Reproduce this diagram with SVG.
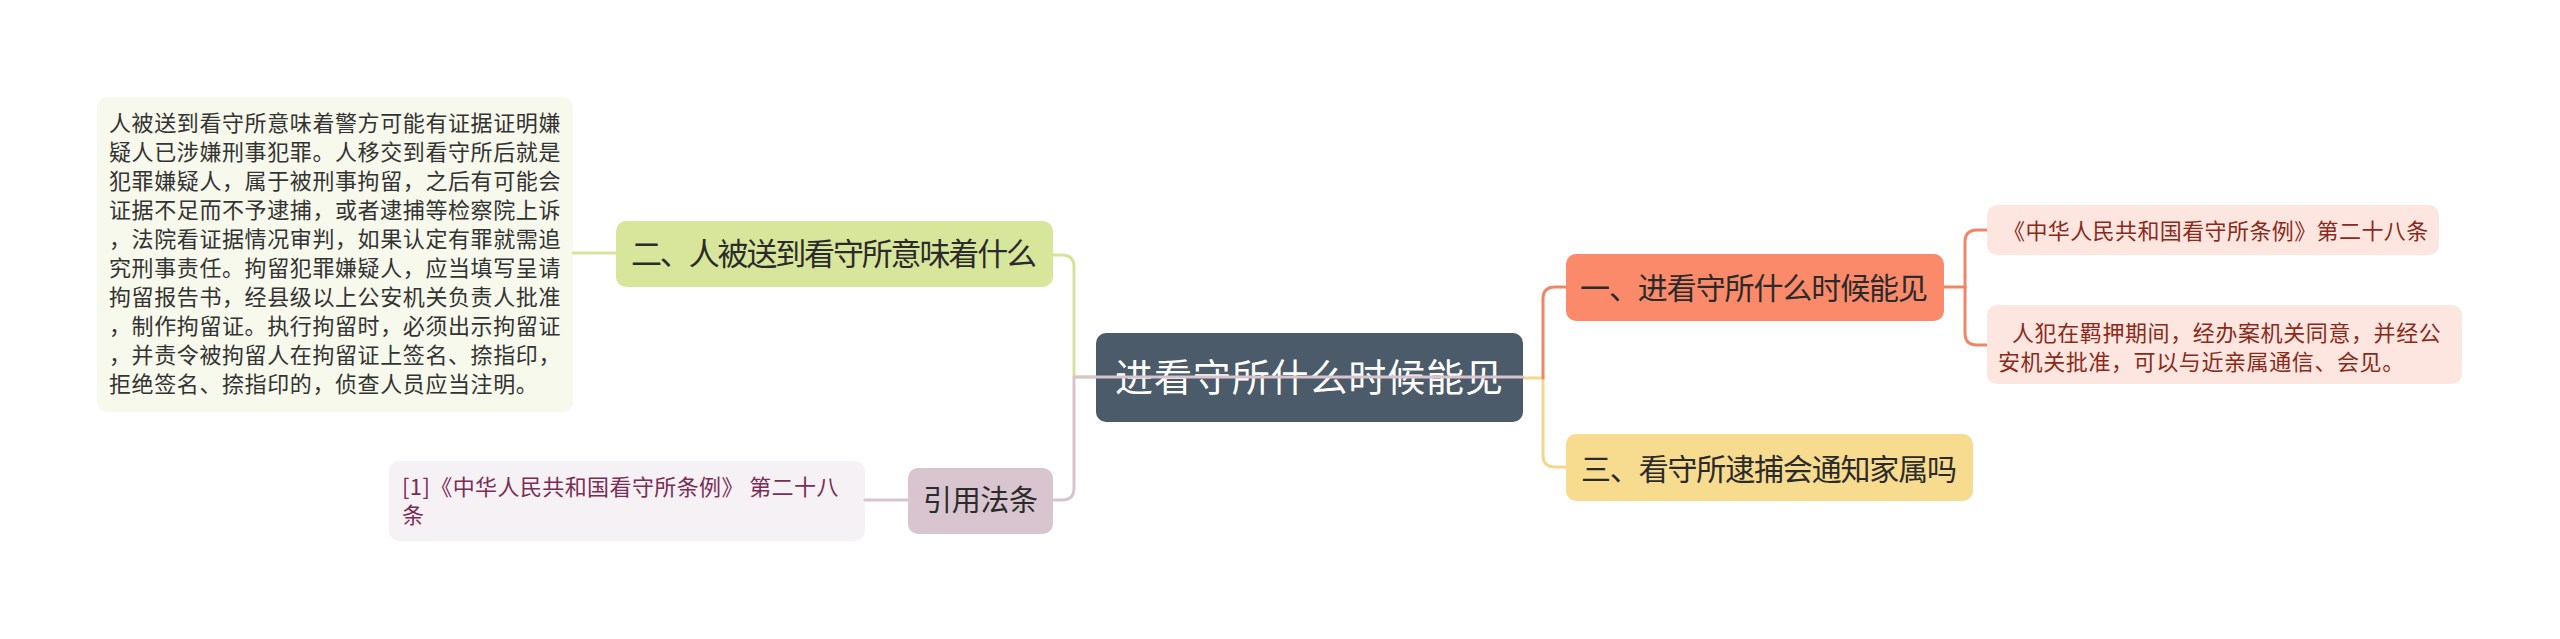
<svg xmlns="http://www.w3.org/2000/svg" width="2560" height="639" viewBox="0 0 2560 639">
<style>
text{font-family:"Noto Sans CJK SC","Noto Sans CJK JP",sans-serif;}
.c{fill:none;stroke-width:3;stroke-linecap:round;stroke-linejoin:round}
.g{stroke:#d6e39a}
.p{stroke:#d7c4cd}
.o{stroke:#f08567}
.y{stroke:#f3d88c}
.body{font-size:22px;fill:#333333;letter-spacing:0.6px}
.lbl{fill:#2b2b2b}
</style>
<rect width="2560" height="639" fill="#ffffff"/>

<g id="n-left-detail">
<rect x="97" y="97" width="476" height="315" rx="10" fill="#f7f9ec"/>
<text class="body" x="109" y="131">人被送到看守所意味着警方可能有证据证明嫌</text>
<text class="body" x="109" y="160">疑人已涉嫌刑事犯罪。人移交到看守所后就是</text>
<text class="body" x="109" y="189">犯罪嫌疑人，属于被刑事拘留，之后有可能会</text>
<text class="body" x="109" y="218">证据不足而不予逮捕，或者逮捕等检察院上诉</text>
<text class="body" x="109" y="247">，法院看证据情况审判，如果认定有罪就需追</text>
<text class="body" x="109" y="276">究刑事责任。拘留犯罪嫌疑人，应当填写呈请</text>
<text class="body" x="109" y="305">拘留报告书，经县级以上公安机关负责人批准</text>
<text class="body" x="109" y="334">，制作拘留证。执行拘留时，必须出示拘留证</text>
<text class="body" x="109" y="363">，并责令被拘留人在拘留证上签名、捺指印，</text>
<text class="body" x="109" y="392">拒绝签名、捺指印的，侦查人员应当注明。</text>
</g>

<g id="n-citation">
<rect x="389" y="461" width="476" height="80" rx="10" fill="#f6f1f4"/>
<text x="402" y="495" font-size="22" fill="#7a2d55" letter-spacing="0.4">[1]《中华人民共和国看守所条例》 第二十八</text>
<text x="402" y="523" font-size="22" fill="#7a2d55">条</text>
</g>

<g id="connectors">
<path class="c g" d="M573 253 L616 253"/>
<path class="c g" d="M1053 255 L1062 255 Q1074 255 1074 267 L1074 377 L1096 377"/>
<path class="c p" d="M865 500 L908 500"/>
<path class="c p" d="M1053 500 L1062 500 Q1074 500 1074 488 L1074 377 L1096 377"/>
<path class="c y" d="M1523 378 L1543 378 L1543 455 Q1543 467 1555 467 L1566 467"/>
<path class="c o" d="M1543 378 L1543 299 Q1543 287 1555 287 L1566 287"/>
<path class="c o" d="M1944 287 L1965 287"/>
<path class="c o" d="M1987 230 L1977 230 Q1965 230 1965 242 L1965 333 Q1965 345 1977 345 L1987 345"/>
</g>

<g id="n-two">
<rect x="616" y="221" width="437" height="66" rx="10" fill="#d8e69b"/>
<text class="lbl" x="631" y="265" font-size="31" textLength="406" lengthAdjust="spacing">二、人被送到看守所意味着什么</text>
</g>

<g id="n-cite-label">
<rect x="908" y="468" width="145" height="66" rx="10" fill="#d8c5cf"/>
<text class="lbl" x="923" y="511" font-size="29" textLength="115" lengthAdjust="spacing">引用法条</text>
</g>

<g id="n-main">
<rect x="1096" y="333" width="427" height="89" rx="10" fill="#4b5b6a"/>
<text x="1115" y="391" font-size="38" fill="#ffffff" textLength="388" lengthAdjust="spacing">进看守所什么时候能见</text>
</g>
<path class="c p" d="M1096 377 L1523 377"/>

<g id="n-one">
<rect x="1566" y="254" width="378" height="67" rx="10" fill="#fb8a6a"/>
<text class="lbl" x="1580" y="299" font-size="30" textLength="348" lengthAdjust="spacing">一、进看守所什么时候能见</text>
</g>

<g id="n-three">
<rect x="1566" y="434" width="407" height="67" rx="10" fill="#f7dc8f"/>
<text class="lbl" x="1581" y="480" font-size="30" textLength="376" lengthAdjust="spacing">三、看守所逮捕会通知家属吗</text>
</g>

<g id="n-law">
<rect x="1987" y="205" width="452" height="50" rx="10" fill="#fde6df"/>
<text x="2003" y="239" font-size="22" fill="#8b2a1b" letter-spacing="0.4">《中华人民共和国看守所条例》第二十八条</text>
</g>

<g id="n-visit">
<rect x="1987" y="305" width="475" height="79" rx="10" fill="#fde6df"/>
<text x="2012" y="341" font-size="22" fill="#8b2a1b" letter-spacing="0.6">人犯在羁押期间，经办案机关同意，并经公</text>
<text x="1998" y="370" font-size="22" fill="#8b2a1b" letter-spacing="0.6">安机关批准，可以与近亲属通信、会见。</text>
</g>
</svg>
